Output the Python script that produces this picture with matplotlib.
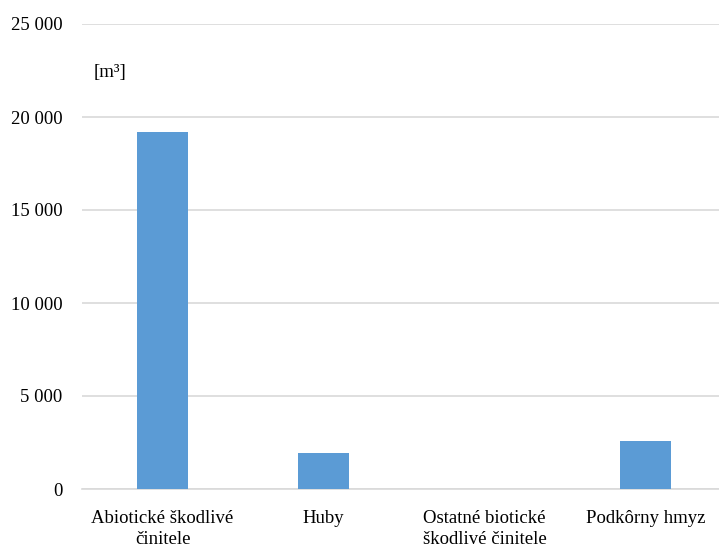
import matplotlib.pyplot as plt
import numpy as np

categories = ['Abiotické škodlivé\nčinitele', 'Huby', 'Ostatné biotické\nškodlivé činitele', 'Podkôrny hmyz']
values = [19200, 1930, 0, 2580]
yticks = [0, 5000, 10000, 15000, 20000, 25000]

plt.rcParams['font.family'] = ['Liberation Serif', 'DejaVu Serif']

fig = plt.figure(figsize=(7.19, 5.52), dpi=100)
ax = fig.add_axes([82 / 719, 1 - 489 / 552, 644 / 719, 465 / 552])

x = np.arange(len(categories))
ax.bar(x, values, width=0.32, color='#5B9BD5', zorder=3)

ax.set_xlim(-0.5, len(categories) - 0.5)
ax.set_ylim(0, 25000)
ax.set_yticks(yticks)
ax.set_yticklabels([f'{v:,}'.replace(',', ' ') for v in yticks], fontsize=13.5)
ax.set_xticks(x)
ax.set_xticklabels(categories, fontsize=13.5, linespacing=1.3)
ax.tick_params(axis='both', length=0)
ax.tick_params(axis='y', pad=14)
ax.tick_params(axis='x', pad=15)

ax.grid(axis='y', color='#D9D9D9', linewidth=1.2, zorder=0)
for s in ['top', 'right', 'left']:
    ax.spines[s].set_visible(False)
ax.spines['bottom'].set_color('#D9D9D9')
ax.spines['bottom'].set_linewidth(1.2)

fig.text(94 / 719, 1 - 72 / 552, '[m³]', fontsize=13.5, va='center', ha='left')

fig.savefig('out.png', dpi=100)
